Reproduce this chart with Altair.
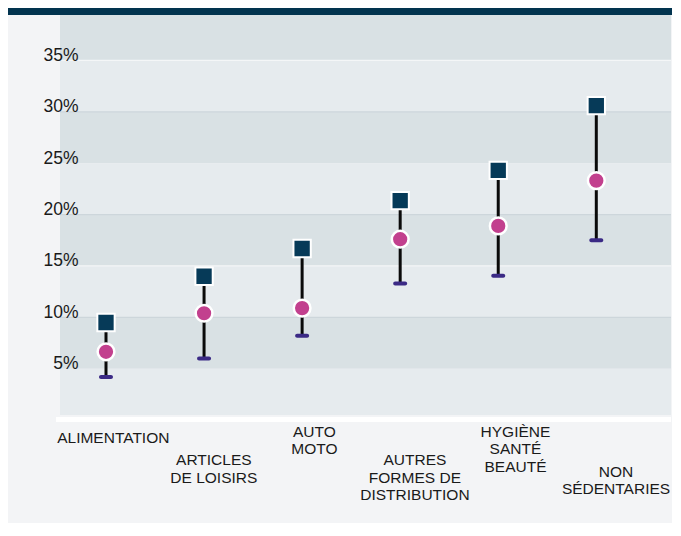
import altair as alt
import pandas as pd

# ---- data ----
categories = ["ALIMENTATION", "ARTICLES DE LOISIRS", "AUTO MOTO",
              "AUTRES FORMES DE DISTRIBUTION", "HYGIÈNE SANTÉ BEAUTÉ", "NON SÉDENTARIES"]
label_lines = [["ALIMENTATION"], ["ARTICLES", "DE LOISIRS"], ["AUTO", "MOTO"],
               ["AUTRES", "FORMES DE", "DISTRIBUTION"], ["HYGIÈNE", "SANTÉ", "BEAUTÉ"],
               ["NON", "SÉDENTARIES"]]
low_vals = [4.2, 6.0, 8.2, 13.3, 14.05, 17.5]
mid_vals = [6.65, 10.4, 10.9, 17.6, 18.9, 23.3]
high_vals = [9.5, 14.0, 16.7, 21.35, 24.3, 30.6]
y_ticks = [5, 10, 15, 20, 25, 30, 35]

# background bands (edges in %)
band_hi = [40, 35, 30, 25, 20, 15, 10, 5]
band_lo = [35, 30, 25, 20, 15, 10, 5, 0.5]
band_col = ["#d9e1e4", "#e6ebee", "#d9e1e4", "#e6ebee", "#d9e1e4", "#e6ebee", "#d9e1e4", "#e6ebee"]
grid_vals = [35, 30, 20, 15, 10]
grid_col = ["#f4f6f7", "#cdd6db", "#cdd6db", "#f4f6f7", "#cdd6db"]

# ---- layout (pixels) ----
W, H = 611, 406
label_baseline_px = [434, 456, 427.7, 456, 427.7, 467.5]
marker_range = [46, 536.3]
label_range = [53.3, 556]

df = pd.DataFrame({"cat": categories, "low": low_vals, "mid": mid_vals, "high": high_vals})
bands = pd.DataFrame({"hi": band_hi, "lo": band_lo, "c": band_col})
grid = pd.DataFrame({"v": grid_vals, "c": grid_col})
labels = pd.DataFrame({"cat": categories, "txt": label_lines, "ly": label_baseline_px})

yscale = alt.Scale(domain=[0.5, 40], nice=False, zero=False)
yaxis = alt.Axis(values=y_ticks, labelExpr="datum.value + '%'", title=None, ticks=False,
                 tickSize=0, domain=False, grid=False, offset=-18, labelPadding=0,
                 labelAlign="right", labelBaseline="alphabetic", labelFontSize=17.5,
                 labelColor="#1a1a1a", labelFont="Liberation Sans", zindex=2)
xscale = alt.Scale(type="point", domain=categories, range=marker_range, padding=0)

band_layer = alt.Chart(bands).mark_rect().encode(
    x=alt.value(0), x2=alt.value(W),
    y=alt.Y("hi:Q", scale=yscale, axis=yaxis), y2="lo:Q",
    color=alt.Color("c:N", scale=None),
)
grid_layer = alt.Chart(grid).mark_rule(strokeWidth=1.2).encode(
    x=alt.value(0), x2=alt.value(W),
    y=alt.Y("v:Q", scale=yscale, axis=yaxis),
    color=alt.Color("c:N", scale=None),
)
strip = alt.Chart(pd.DataFrame({"a": [0]})).mark_rect(color="white").encode(
    x=alt.value(-4), x2=alt.value(W), y=alt.value(408), y2=alt.value(413),
)
topbar = alt.Chart(pd.DataFrame({"a": [0]})).mark_rect(color="#02344f").encode(
    x=alt.value(-52), x2=alt.value(W + 10), y=alt.value(-1), y2=alt.value(6),
)

base = alt.Chart(df)
rule = base.mark_rule(color="#0a0a0a", strokeWidth=3).encode(
    x=alt.X("cat:N", scale=xscale, axis=None),
    y=alt.Y("low:Q", scale=yscale, axis=yaxis), y2="high:Q",
)
low_m = base.mark_tick(color="#3b2a85", size=14, thickness=4, cornerRadius=2, opacity=1).encode(
    x=alt.X("cat:N", scale=xscale, axis=None),
    y=alt.Y("low:Q", scale=yscale, axis=yaxis),
)
mid_m = base.mark_point(shape="circle", filled=True, fill="#c2408e", stroke="white",
                        strokeWidth=2.5, size=280, opacity=1).encode(
    x=alt.X("cat:N", scale=xscale, axis=None),
    y=alt.Y("mid:Q", scale=yscale, axis=yaxis),
)
high_m = base.mark_point(shape="square", filled=True, fill="#063a58", stroke="white",
                         strokeWidth=2, size=300, opacity=1).encode(
    x=alt.X("cat:N", scale=xscale, axis=None),
    y=alt.Y("high:Q", scale=yscale, axis=yaxis),
)

main = alt.layer(band_layer, grid_layer, strip, topbar, rule, low_m, mid_m, high_m)

label_layer = alt.Chart(labels).mark_text(
    align="center", baseline="alphabetic", fontSize=15.5, lineHeight=17.5,
    font="Liberation Sans", color="#1a1a1a",
).encode(
    x=alt.X("cat:N", scale=alt.Scale(type="point", domain=categories, range=label_range, padding=0), axis=None),
    y=alt.Y("ly:Q", scale=alt.Scale(domain=[0, H], range=[0, H], nice=False, zero=False), axis=None),
    text="txt",
)

chart = alt.layer(main, label_layer).resolve_scale(x="independent", y="independent").properties(
    width=W, height=H,
    autosize=alt.AutoSizeParams(type="none"),
    padding={"left": 52, "top": 1, "right": 1, "bottom": 108},
    background="#f3f4f6",
).configure_view(stroke=None)

chart.save("out.html", embed_options={"renderer": "svg", "actions": False})
